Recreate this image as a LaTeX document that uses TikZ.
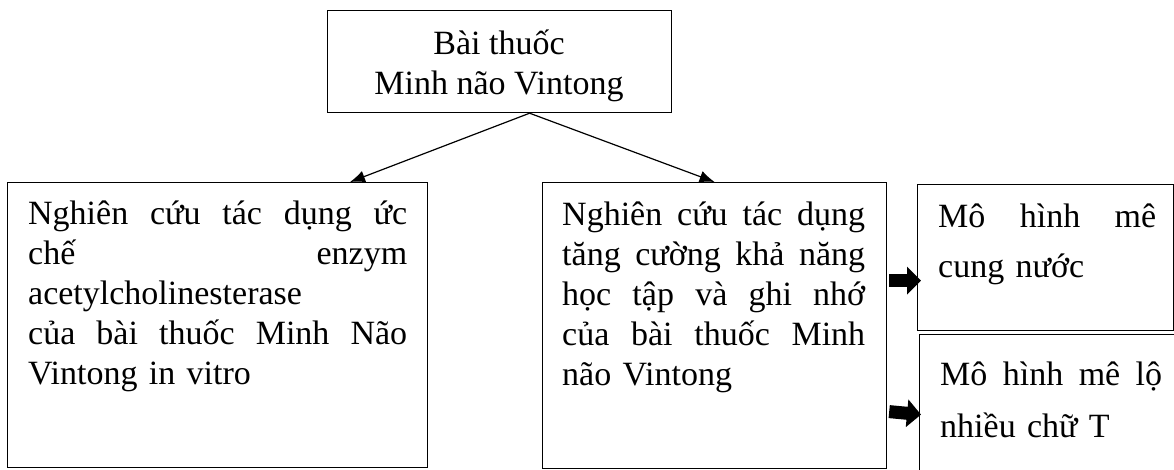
\documentclass[tikz,border=0pt]{standalone}
\usepackage{fontspec}
\setmainfont{Liberation Serif}
\usetikzlibrary{arrows.meta,calc}

% one justified line: the spaces take up all the width
\newcommand{\spread}[2]{\makebox[#1][s]{\spaceskip=0.25em plus 1fil\relax #2}}

\begin{document}
\begin{tikzpicture}[x=1pt,y=-1pt,>=latex,
	box/.style={draw,line width=1.2pt,inner sep=0pt,anchor=north west},
	txt/.style={inner sep=0pt,anchor=north west,align=left,font=\fontsize{34}{40}\selectfont},
	blockarr/.style={line width=13pt,-{Triangle[length=14pt,width=27pt]}}]
	\useasboundingbox (0,0) rectangle (1174,469);
	\clip (0,0) rectangle (1174,469);

	% top
	\node[box,minimum width=344pt,minimum height=102pt] (top) at (327,10) {};
	\node[txt,anchor=north,align=center] (toptxt) at (499,22) {\rule{0pt}{32pt}Bài thuốc\\Minh não Vintong};

	% in vitro
	\node[box,minimum width=420pt,minimum height=285pt] (left) at (7,182) {};
	\node[txt,text width=379pt] (lefttxt) at (28,192) {\rule{0pt}{32pt}\spread{379pt}{Nghiên cứu tác dụng ức}\\
		\spread{379pt}{chế enzym}\\
		acetylcholinesterase\\
		\spread{379pt}{của bài thuốc Minh Não}\\
		Vintong in vitro};

	% hoc tap, ghi nho
	\node[box,minimum width=344pt,minimum height=286pt] (mid) at (542,182) {};
	\node[txt,text width=303pt] (midtxt) at (562,193) {\rule{0pt}{32pt}\spread{303pt}{Nghiên cứu tác dụng}\\
		\spread{303pt}{tăng cường khả năng}\\
		\spread{303pt}{học tập và ghi nhớ}\\
		\spread{303pt}{của bài thuốc Minh}\\
		não Vintong};

	% models
	\node[box,minimum width=256pt,minimum height=146pt] (uppr) at (917,184) {};
	\node[txt,text width=218pt,font=\fontsize{34}{50}\selectfont] (upprtxt) at (938,195) {\rule{0pt}{32pt}\spread{218pt}{Mô hình mê}\\
		cung nước};
	\node[box,minimum width=280pt,minimum height=160pt] (lowr) at (919,334) {};
	\node[txt,text width=222pt,font=\fontsize{34}{52}\selectfont] (lowrtxt) at (940,353) {\rule{0pt}{32pt}\spread{222pt}{Mô hình mê lộ}\\
		nhiều chữ T};

	% arrows
	\coordinate (fork) at ($(top.south)+(30,0)$);
	\draw[line width=1.2pt,-{Latex[length=15pt,width=12pt]}] (fork) -- ($(left.north west)+(343,0)$);
	\draw[line width=1.2pt,-{Latex[length=15pt,width=12pt]}] (fork) -- (mid.north);

	\draw[blockarr] ($(mid.east)+(2,-45)$) -- ($(uppr.west)+(4,23)$);
	\draw[blockarr] ($(mid.east)+(2,86)$) -- ($(lowr.west)+(2,0)$);
\end{tikzpicture}
\end{document}
